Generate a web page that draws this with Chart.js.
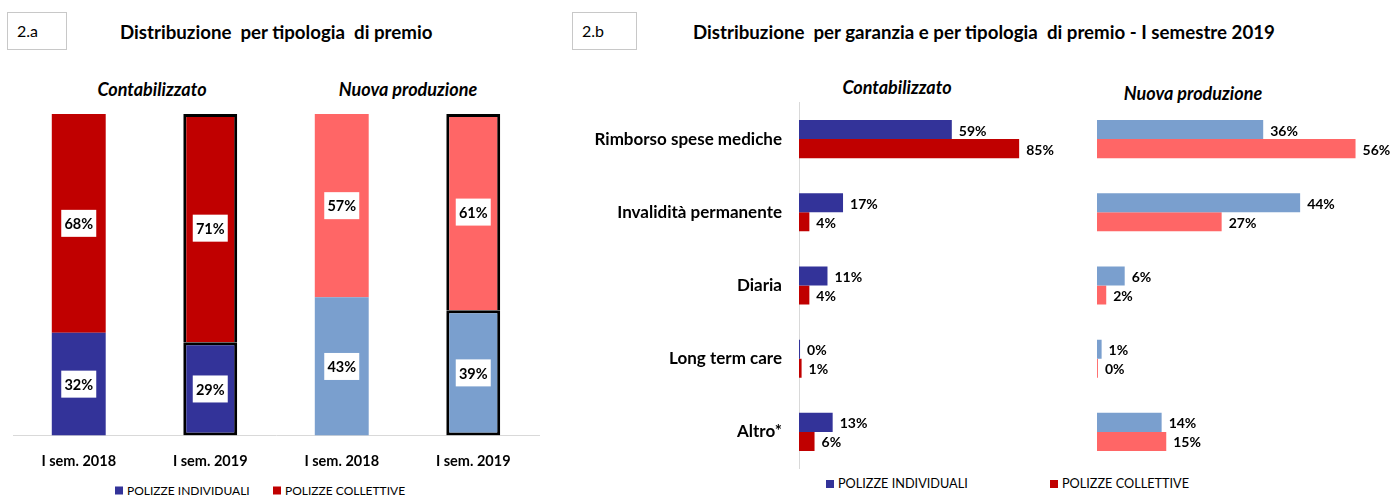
<!DOCTYPE html>
<html>
<head>
<meta charset="utf-8">
<script src="https://cdn.jsdelivr.net/npm/chart.js@4/dist/chart.umd.min.js"></script>
<style>
  body { margin: 0; width: 1391px; height: 495px; overflow: hidden; background: #fff; position: relative;
         font-family: Lato, 'Liberation Sans', sans-serif; color: #000; }
  .abs { position: absolute; white-space: nowrap; }
  .riquadro { border: 1px solid #c8c8c8; box-sizing: border-box; font-size: 16px; line-height: 36px; padding-left: 9px; }
  .titolo { font-weight: bold; font-size: 18.7px; transform: translateY(-50%); }
  .sotto { font-weight: bold; font-style: italic; font-size: 18px; transform: translate(-50%, -50%); }
  .leg { font-size: 12px; transform: translateY(-50%); }
  .leg i { display: inline-block; width: 8px; height: 8px; margin-right: 4px; vertical-align: 0; }
  canvas { position: absolute; }
</style>
</head>
<body>
<div class="abs riquadro" style="left:7px;top:12px;width:60px;height:38px">2.a</div>
<div class="abs titolo" style="left:120px;top:32px">Distribuzione&nbsp; per tipologia&nbsp; di premio</div>
<div class="abs riquadro" style="left:572px;top:12px;width:65px;height:38px">2.b</div>
<div class="abs titolo" style="left:693px;top:32px">Distribuzione&nbsp; per garanzia e per tipologia&nbsp; di premio - I semestre 2019</div>

<div class="abs sotto" style="left:152px;top:89px">Contabilizzato</div>
<div class="abs sotto" style="left:408px;top:89px">Nuova produzione</div>
<div class="abs sotto" style="left:897px;top:87px">Contabilizzato</div>
<div class="abs sotto" style="left:1193px;top:93px">Nuova produzione</div>

<div class="abs leg" style="left:115px;top:490px"><i style="background:#333399"></i>POLIZZE INDIVIDUALI</div>
<div class="abs leg" style="left:273px;top:490px"><i style="background:#C00000"></i>POLIZZE COLLETTIVE</div>
<div class="abs leg" style="left:826px;top:483px;font-size:12.7px"><i style="background:#333399"></i>POLIZZE INDIVIDUALI</div>
<div class="abs leg" style="left:1050px;top:483px;font-size:12.7px"><i style="background:#C00000"></i>POLIZZE COLLETTIVE</div>

<canvas id="graficoTipologia" style="left:0;top:100px" width="560" height="395"></canvas>
<canvas id="graficoContabilizzato" style="left:560px;top:95px" width="525" height="385"></canvas>
<canvas id="graficoNuova" style="left:1085px;top:95px" width="306" height="385"></canvas>

<script>
// 2.a - distribuzione per tipologia di premio
const periodi = ['I sem. 2018', 'I sem. 2019', 'I sem. 2018', 'I sem. 2019'];
const quotaIndividuali = [32, 29, 43, 39];
const quotaCollettive = [68, 71, 57, 61];

// 2.b - distribuzione per garanzia (I semestre 2019)
const garanzie = ['Rimborso spese mediche', 'Invalidità permanente', 'Diaria', 'Long term care', 'Altro*'];
const contIndividuali = [59, 17, 11, 0.4, 13];
const contCollettive = [85, 4, 4, 1, 6];
const nuovaIndividuali = [36, 44, 6, 1, 14];
const nuovaCollettive = [56, 27, 2, 0.2, 15];

const BLU = '#333399';
const ROSSO = '#C00000';
const AZZURRO = '#7A9FCE';
const SALMONE = '#FF6666';
const FONT = "Lato, 'Liberation Sans', sans-serif";

Chart.defaults.font.family = FONT;
Chart.defaults.color = '#000';

// etichette bianche al centro dei segmenti
const etichetteRiquadro = {
    id: 'etichetteRiquadro',
    afterDatasetsDraw(chart) {
        const ctx = chart.ctx;
        ctx.save();
        ctx.font = 'bold 14.5px ' + FONT;
        ctx.textAlign = 'center';
        ctx.textBaseline = 'middle';
        chart.data.datasets.forEach((ds, i) => {
            chart.getDatasetMeta(i).data.forEach((bar, j) => {
                const cy = (bar.y + bar.base) / 2;
                ctx.fillStyle = '#fff';
                ctx.fillRect(bar.x - 17.5, cy - 13.5, 35, 27);
                ctx.fillStyle = '#000';
                ctx.fillText(ds.data[j] + '%', bar.x, cy + 1);
            });
        });
        ctx.restore();
    }
};

// etichette alla fine delle barre orizzontali
const etichetteFine = {
    id: 'etichetteFine',
    afterDatasetsDraw(chart) {
        const ctx = chart.ctx;
        ctx.save();
        ctx.font = 'bold 14px ' + FONT;
        ctx.textAlign = 'left';
        ctx.textBaseline = 'middle';
        ctx.fillStyle = '#000';
        chart.data.datasets.forEach((ds, i) => {
            chart.getDatasetMeta(i).data.forEach((bar, j) => {
                ctx.fillText(Math.round(ds.data[j]) + '%', bar.x + 7, bar.y + 1.5);
            });
        });
        ctx.restore();
    }
};

new Chart(document.getElementById('graficoTipologia'), {
    type: 'bar',
    data: {
        labels: periodi,
        datasets: [{
            label: 'POLIZZE INDIVIDUALI',
            data: quotaIndividuali,
            backgroundColor: [BLU, BLU, AZZURRO, AZZURRO],
            borderColor: ['rgba(0,0,0,0)', '#000', 'rgba(0,0,0,0)', '#000'],
            borderWidth: [0, 3, 0, 3],
            borderSkipped: false
        }, {
            label: 'POLIZZE COLLETTIVE',
            data: quotaCollettive,
            backgroundColor: [ROSSO, ROSSO, SALMONE, SALMONE],
            borderColor: ['rgba(0,0,0,0)', '#000', 'rgba(0,0,0,0)', '#000'],
            borderWidth: [0, 3, 0, 3],
            borderSkipped: 'start'
        }]
    },
    options: {
        responsive: false,
        animation: false,
        barPercentage: 0.41,
        categoryPercentage: 1,
        layout: { padding: { top: 14, left: 13, right: 21, bottom: 8 } },
        plugins: { legend: { display: false }, tooltip: { enabled: false } },
        scales: {
            x: {
                stacked: true,
                grid: { display: false, drawTicks: false },
                border: { display: true, color: '#d9d9d9', width: 1 },
                ticks: { font: { size: 14.5, weight: 'bold' }, padding: 17 }
            },
            y: { stacked: true, display: false, min: 0, max: 100 }
        }
    },
    plugins: [etichetteRiquadro]
});

function graficoGaranzie(id, datiInd, datiColl, coloreInd, coloreColl, massimo, padding, conAsse) {
    const asseY = conAsse ? {
        grid: { display: false, drawTicks: false },
        border: { display: true, color: '#d9d9d9', width: 1 },
        ticks: { font: { size: 17, weight: 'bold' }, padding: 17 },
        afterFit(scale) {
            scale.width = 239;
            scale.paddingTop = 0;
            scale.paddingBottom = 0;
        }
    } : { display: false };
    return new Chart(document.getElementById(id), {
        type: 'bar',
        data: {
            labels: garanzie,
            datasets: [
                { label: 'POLIZZE INDIVIDUALI', data: datiInd, backgroundColor: coloreInd },
                { label: 'POLIZZE COLLETTIVE', data: datiColl, backgroundColor: coloreColl }
            ]
        },
        options: {
            indexAxis: 'y',
            responsive: false,
            animation: false,
            barPercentage: 1,
            categoryPercentage: 0.52,
            layout: { padding: padding },
            plugins: { legend: { display: false }, tooltip: { enabled: false } },
            scales: {
                x: { display: false, min: 0, max: massimo },
                y: asseY
            }
        },
        plugins: [etichetteFine]
    });
}

graficoGaranzie('graficoContabilizzato', contIndividuali, contCollettive, BLU, ROSSO, 100,
    { top: 7.5, bottom: 11.5, left: 0, right: 27 }, true);
graficoGaranzie('graficoNuova', nuovaIndividuali, nuovaCollettive, AZZURRO, SALMONE, 60,
    { top: 7.5, bottom: 11.5, left: 12, right: 17 }, false);
</script>
</body>
</html>
